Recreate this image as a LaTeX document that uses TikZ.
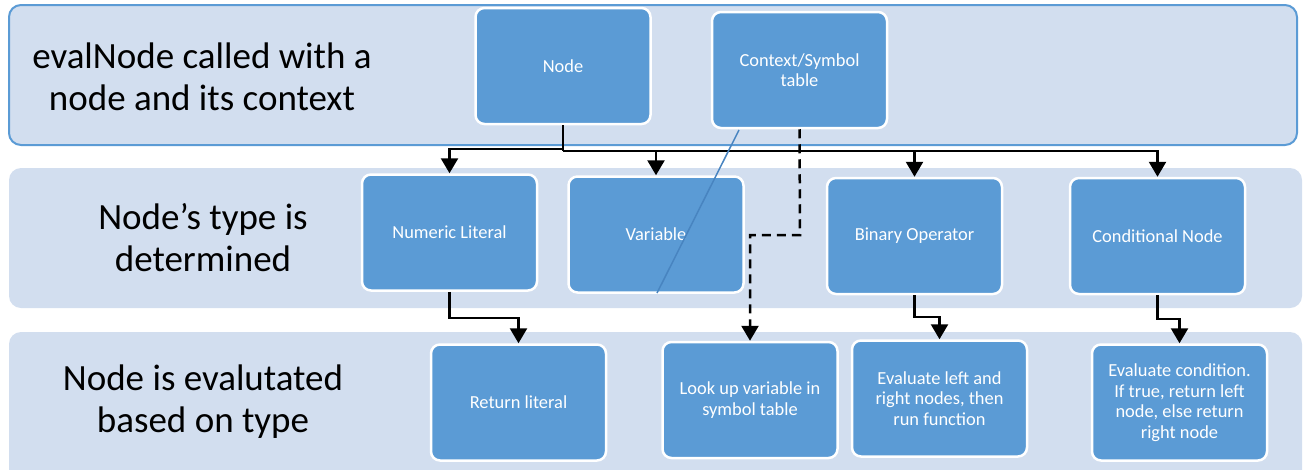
\documentclass[tikz,border=0pt]{standalone}
\usepackage{fontspec}
\setmainfont{Carlito}
\usetikzlibrary{arrows.meta}
\definecolor{bandfill}{RGB}{210,222,239}
\definecolor{boxfill}{RGB}{91,155,213}
\definecolor{bandline}{RGB}{91,155,213}
\definecolor{stray}{RGB}{72,132,192}
\begin{document}
\begin{tikzpicture}[x=1pt,y=-1pt,
  band/.style={fill=bandfill, rounded corners=12pt},
  procbox/.style={draw=white, line width=2.5pt, fill=boxfill, rounded corners=9pt, text=white,
    font=\fontsize{18.4}{20.6}\selectfont, align=center, minimum width=175pt, minimum height=116pt, inner sep=0pt},
  bandlabel/.style={font=\fontsize{37}{42}\selectfont, align=center},
  wire/.style={line width=2.5pt},
  conn/.style={line width=2.5pt, -{Triangle[width=17pt,length=15pt]}},
  dashconn/.style={conn, dash pattern=on 9pt off 6pt}
]
\useasboundingbox (0,0) rectangle (1304,469);
% bands
\fill[band] (9,168) rectangle (1302,308);
\fill[band] (9,332) rectangle (1302,490);
\draw[band, draw=bandline, line width=2pt] (9,5) rectangle (1297,145);
% band labels
\node[bandlabel] (l1) at (202,77) {evalNode called with a\\node and its context};
\node[bandlabel] (l2) at (203,238) {Node's type is\\determined};
\node[bandlabel] (l3) at (203,402) {Node is evalutated\\based on type};
% boxes
\node[procbox] (node) at (563,66) {Node};
\node[procbox] (ctx) at (799.5,70) {Context/Symbol\\table};
\node[procbox] (numlit) at (449.5,232.5) {Numeric Literal};
\node[procbox] (var) at (656,234.5) {Variable};
\node[procbox] (binop) at (914.5,236) {Binary Operator};
\node[procbox] (cond) at (1157.5,236) {Conditional Node};
\node[procbox] (retlit) at (518.5,402.5) {Return literal};
\node[procbox] (lookup) at (750,400) {Look up variable in\\symbol table};
\node[procbox] (evallr) at (939.5,398.5) {Evaluate left and\\right nodes, then\\run function};
\node[procbox] (evalcond) at (1179.5,402.5) {Evaluate condition.\\If true, return left\\node, else return\\right node};
% connectors
\coordinate (jl) at (563,149);
\coordinate (jr) at (563,151);
\draw[wire] (node.south) -- (jr);
\draw[conn] (jl) -| (numlit.north);
\draw[conn] (jr) -| (var.north);
\draw[conn] (jr) -| (binop.north);
\draw[conn] (jr) -| (cond.north);
\coordinate (d1) at (800,235);
\draw[dashconn] (ctx.south) -- (d1) -| (lookup.north);
\coordinate (n1) at (449.5,318);
\draw[conn] (numlit.south) -- (n1) -| (retlit.north);
\coordinate (b1) at (914.5,317);
\draw[conn] (binop.south) -- (b1) -| (evallr.north);
\coordinate (c1) at (1157.5,319);
\draw[conn] (cond.south) -- (c1) -| (evalcond.north);
% stray line
\coordinate (s1) at (739,130);
\coordinate (s2) at (657,293);
\draw[stray, line width=1.5pt] (s1) -- (s2);
\end{tikzpicture}
\end{document}
